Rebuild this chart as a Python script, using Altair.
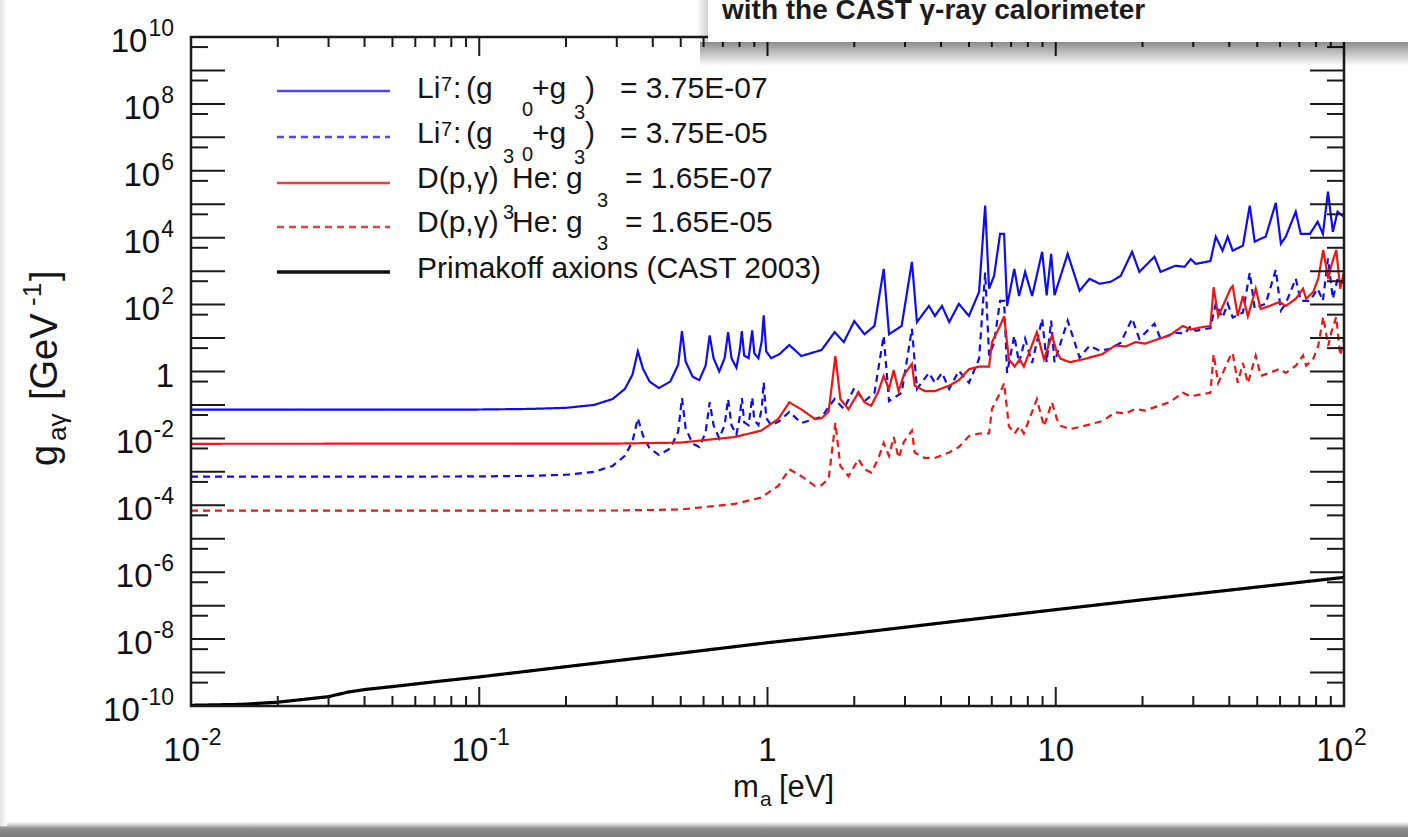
import altair as alt
import pandas as pd

# ---------------------------------------------------------------- layout
PAGE_W, PAGE_H = 1408, 837
PAD_L, PAD_T, PAD_R, PAD_B = 191, 37, 64, 131
W = PAGE_W - PAD_L - PAD_R
H = PAGE_H - PAD_T - PAD_B
FONT = "Liberation Sans"

# ---------------------------------------------------------------- data
# Li7 : (g0+g3) = 3.75E-07  (blue, solid)
li7_m = [0.01, 0.05, 0.1, 0.15, 0.2, 0.25, 0.29, 0.32, 0.34, 0.355, 0.37, 0.39,
         0.42, 0.46, 0.49, 0.505, 0.52, 0.55, 0.58, 0.61, 0.63, 0.65, 0.68, 0.71,
         0.73, 0.75, 0.78, 0.80, 0.815, 0.83, 0.86, 0.885, 0.90, 0.93, 0.955, 0.97,
         0.99, 1.03, 1.1, 1.19, 1.31, 1.54, 1.71, 1.84, 2.0, 2.17, 2.35, 2.53, 2.64,
         2.92, 3.17, 3.3, 3.63, 3.81, 4.03, 4.27, 4.61, 5.0, 5.42, 5.69, 5.87, 6.11,
         6.41, 6.62, 6.78, 7.18, 7.46, 7.83, 8.28, 8.97, 9.3, 9.64, 9.9, 11.0, 12.1,
         13.1, 14.2, 15.5, 16.8, 18.4, 19.5, 22.0, 23.1, 26.0, 28.0, 29.4, 30.6,
         34.4, 35.9, 37.9, 39.5, 41.1, 44.6, 47.1, 49.0, 51.4, 53.5, 58.0, 60.4,
         62.8, 68.0, 70.8, 76.2, 81.0, 84.5, 88.0, 91.5, 95.0, 100.0]
li7_a_g = [7.2e-2, 7.2e-2, 7.3e-2, 7.6e-2, 8.2e-2, 1.0e-1, 1.5e-1, 3.0e-1, 8.0e-1,
           4.0e0, 1.2e0, 5.0e-1, 3.2e-1, 5.0e-1, 1.6e0, 1.6e1, 2.0e0, 7.0e-1, 5.5e-1,
           1.5e0, 1.2e1, 2.5e0, 1.0e0, 2.5e0, 1.5e1, 2.5e0, 1.3e0, 4.0e0, 1.6e1, 3.0e0,
           2.5e0, 1.7e1, 3.5e0, 2.5e0, 8.0e0, 4.8e1, 4.0e0, 2.5e0, 3.3e0, 6.2e0, 2.9e0,
           4.4e0, 1.5e1, 7.6e0, 3.2e1, 1.3e1, 2.3e1, 1.17e3, 1.3e1, 2.3e1, 1.9e3, 3.0e1,
           9.1e1, 4.6e1, 9.1e1, 3.0e1, 1.05e2, 4.6e1, 2.4e2, 9.1e4, 3.0e2, 7.2e2, 1.3e4,
           1.3e4, 9.1e1, 1.17e3, 1.8e2, 9.5e2, 1.8e2, 3.8e3, 1.9e2, 3.3e3, 1.9e2, 3.3e3,
           2.6e2, 5.9e2, 4.2e2, 4.8e2, 7.2e2, 3.8e3, 9.5e2, 2.7e3, 9.5e2, 1.45e3, 1.35e3,
           2.3e3, 1.65e3, 2.0e3, 1.07e4, 4.1e3, 1.07e4, 4.1e3, 5.8e3, 9.1e4, 7.6e3, 9.3e3,
           1.07e4, 1.1e5, 6.6e3, 1.07e4, 6.0e4, 1.3e4, 1.3e4, 3.0e4, 1.3e4, 2.4e5, 1.5e4,
           6.0e4, 4.2e4]
# Li7 : (g0+g3) = 3.75E-05  (blue, dashed)
li7_b_g = [7.2e-4, 7.2e-4, 7.3e-4, 7.6e-4, 8.2e-4, 1.0e-3, 1.5e-3, 3.0e-3, 8.0e-3,
           4.0e-2, 1.2e-2, 5.0e-3, 3.2e-3, 5.0e-3, 1.6e-2, 1.6e-1, 2.0e-2, 7.0e-3, 5.5e-3,
           1.5e-2, 1.2e-1, 2.5e-2, 1.0e-2, 2.5e-2, 1.5e-1, 2.5e-2, 1.3e-2, 4.0e-2, 1.6e-1, 3.0e-2,
           2.5e-2, 1.7e-1, 3.5e-2, 2.5e-2, 8.0e-2, 4.8e-1, 4.0e-2, 2.5e-2, 3.3e-2, 6.2e-2, 2.9e-2,
           4.4e-2, 1.5e-1, 7.6e-2, 3.2e-1, 1.3e-1, 2.3e-1, 1.17e1, 1.3e-1, 2.3e-1, 1.9e1, 3.0e-1,
           9.1e-1, 4.6e-1, 9.1e-1, 3.0e-1, 1.05e0, 4.6e-1, 2.4e0, 9.1e2, 3.0e0, 7.2e0, 1.3e2,
           1.3e2, 9.1e-1, 1.17e1, 1.8e0, 9.5e0, 1.8e0, 3.8e1, 1.9e0, 3.3e1, 1.9e0, 3.3e1,
           2.6e0, 5.9e0, 4.2e0, 4.8e0, 7.2e0, 3.8e1, 9.5e0, 2.7e1, 9.5e0, 1.45e1, 1.35e1,
           2.3e1, 1.65e1, 2.0e1, 1.07e2, 4.1e1, 1.07e2, 4.1e1, 5.8e1, 9.1e2, 7.6e1, 9.3e1,
           1.07e2, 1.1e3, 6.6e1, 1.07e2, 6.0e2, 1.3e2, 1.3e2, 3.0e2, 1.3e2, 2.4e3, 1.5e2,
           6.0e2, 4.2e2]

# D(p,gamma)3He : g3 = 1.65E-07  (red, solid)
dpg_m = [0.01, 0.3, 0.5, 0.59, 0.77, 0.95, 1.09, 1.19, 1.31, 1.46, 1.54, 1.63, 1.72,
         1.79, 1.91, 2.07, 2.17, 2.29, 2.42, 2.53, 2.64, 2.74, 2.85, 2.97, 3.17, 3.24,
         3.51, 3.81, 4.27, 4.61, 5.0, 5.42, 5.87, 6.01, 6.41, 6.62, 6.88, 7.2, 7.5,
         7.75, 8.6, 9.1, 9.7, 10.1, 10.4, 11.2, 12.4, 14.5, 16.1, 17.5, 18.9, 20.4,
         22.9, 24.8, 27.6, 29.4, 32.0, 34.4, 35.3, 36.6, 38.0, 40.4, 41.1, 42.8, 44.6,
         46.4, 48.3, 49.4, 51.4, 55.2, 59.8, 62.8, 68.1, 72.1, 73.9, 78.2, 81.4, 84.7,
         88.2, 90.3, 94.0, 97.0, 100.0]
dpg_a_g = [6.9e-3, 7.0e-3, 7.5e-3, 8.7e-3, 1.1e-2, 1.7e-2, 3.8e-2, 1.2e-1, 7.4e-2,
           3.8e-2, 4.0e-2, 6.3e-2, 2.9e0, 1.5e-1, 7.4e-2, 2.4e-1, 1.2e-1, 9.5e-2, 2.4e-1,
           7.4e-1, 3.0e-1, 1.1e0, 2.6e-1, 7.8e-1, 1.7e0, 3.8e-1, 2.6e-1, 2.6e-1, 3.8e-1,
           5.5e-1, 1.17e0, 1.4e0, 1.4e0, 7.6e0, 2.3e1, 4.5e1, 2.3e0, 1.4e0, 2.3e0, 1.4e0,
           1.5e1, 2.3e0, 1.2e1, 3.7e0, 2.4e0, 1.9e0, 2.3e0, 3.3e0, 6.0e0, 5.6e0, 7.6e0,
           6.8e0, 9.6e0, 1.2e1, 2.3e1, 1.8e1, 2.1e1, 2.3e1, 3.3e2, 4.5e1, 9.1e1, 3.0e2,
           3.6e2, 4.6e1, 1.8e2, 4.5e1, 1.5e2, 3.0e2, 7.4e1, 9.1e1, 1.2e2, 9.1e1, 1.5e2,
           3.0e2, 1.5e2, 2.4e2, 5.9e2, 4.3e3, 5.9e2, 1.45e3, 4.3e3, 3.0e2, 9.5e2]
# D(p,gamma)3He : g3 = 1.65E-05  (red, dashed)
dpg_b_g = [6.9e-5, 7.0e-5, 7.5e-5, 8.7e-5, 1.1e-4, 1.7e-4, 3.8e-4, 1.2e-3, 7.4e-4,
           3.8e-4, 4.0e-4, 6.3e-4, 2.9e-2, 1.5e-3, 7.4e-4, 2.4e-3, 1.2e-3, 9.5e-4, 2.4e-3,
           7.4e-3, 3.0e-3, 1.1e-2, 2.6e-3, 7.8e-3, 1.7e-2, 3.8e-3, 2.6e-3, 2.6e-3, 3.8e-3,
           5.5e-3, 1.17e-2, 1.4e-2, 1.4e-2, 7.6e-2, 2.3e-1, 4.5e-1, 2.3e-2, 1.4e-2, 2.3e-2, 1.4e-2,
           1.5e-1, 2.3e-2, 1.2e-1, 3.7e-2, 2.4e-2, 1.9e-2, 2.3e-2, 3.3e-2, 6.0e-2, 5.6e-2, 7.6e-2,
           6.8e-2, 9.6e-2, 1.2e-1, 2.3e-1, 1.8e-1, 2.1e-1, 2.3e-1, 3.3e0, 4.5e-1, 9.1e-1, 3.0e0,
           3.6e0, 4.6e-1, 1.8e0, 4.5e-1, 1.5e0, 3.0e0, 7.4e-1, 9.1e-1, 1.2e0, 9.1e-1, 1.5e0,
           3.0e0, 1.5e0, 2.4e0, 5.9e0, 4.3e1, 5.9e0, 1.45e1, 4.3e1, 3.0e0, 9.5e0]

# Primakoff axions (CAST 2003)
cast_m = [0.01, 0.015, 0.02, 0.03, 0.035, 0.04, 0.05, 0.07, 0.1, 0.2, 0.5, 1.0,
          2.0, 5.0, 10.0, 20.0, 50.0, 100.0]
cast_g = [1.05e-10, 1.12e-10, 1.3e-10, 1.9e-10, 2.6e-10, 3.1e-10, 3.8e-10, 5.3e-10,
          7.4e-10, 1.5e-9, 3.8e-9, 7.8e-9, 1.5e-8, 3.8e-8, 7.6e-8, 1.5e-7, 3.6e-7, 7.0e-7]

SERIES = [
    # masses, couplings, colour, dash, width
    (li7_m, li7_a_g, "#0d0df0", [1, 0], 2.2),
    (li7_m, li7_b_g, "#0d0df0", [7, 5], 2.2),
    (dpg_m, dpg_a_g, "#f01414", [1, 0], 2.2),
    (dpg_m, dpg_b_g, "#f01414", [7, 5], 2.2),
    (cast_m, cast_g, "#000000", [1, 0], 3.2),
]

# axis ticks and tick labels
x_major = [0.01, 0.1, 1.0, 10.0, 100.0]
x_minor = [k * 10.0 ** e for e in (-2, -1, 0, 1) for k in range(2, 10)]
y_major = [10.0 ** e for e in range(-10, 11)]
y_minor = [5 * 10.0 ** e for e in range(-10, 10)]

x_label_values = [0.01, 0.1, 1.0, 10.0, 100.0]
x_label_base = ["10", "10", "1", "10", "10"]
x_label_exp = ["-2", "-1", "", "", "2"]
y_label_values = [10.0 ** e for e in range(-10, 11, 2)]
y_label_base = ["10", "10", "10", "10", "10", "1", "10", "10", "10", "10", "10"]
y_label_exp = ["-10", "-8", "-6", "-4", "-2", "", "2", "4", "6", "8", "10"]

x_scale = alt.Scale(type="log", domain=[0.01, 100], nice=False)
y_scale = alt.Scale(type="log", domain=[1e-10, 1e10], nice=False)

one_row = pd.DataFrame({"k": [0]})
layers = []

# ---------------------------------------------------------------- curves
for m, g, col, dash, sw in SERIES:
    df = pd.DataFrame({"m": m, "g": g, "i": range(len(m))})
    layers.append(
        alt.Chart(df).mark_line(color=col, strokeDash=dash, strokeWidth=sw, clip=True)
        .encode(x=alt.X("m:Q", scale=x_scale, axis=None),
                y=alt.Y("g:Q", scale=y_scale, axis=None),
                order="i:O")
    )

# ---------------------------------------------------------------- ticks
TICK = "#1a1a1a"


def xticks(vals, length):
    d = pd.DataFrame({"v": vals})
    base = alt.Chart(d).mark_rule(color=TICK, strokeWidth=2)
    xx = alt.X("v:Q", scale=x_scale, axis=None)
    return [base.encode(x=xx, y=alt.value(H), y2=alt.value(H - length)),
            base.encode(x=xx, y=alt.value(0), y2=alt.value(length))]


def yticks(vals, length):
    d = pd.DataFrame({"v": vals})
    base = alt.Chart(d).mark_rule(color=TICK, strokeWidth=2)
    yy = alt.Y("v:Q", scale=y_scale, axis=None)
    return [base.encode(y=yy, x=alt.value(0), x2=alt.value(length)),
            base.encode(y=yy, x=alt.value(W), x2=alt.value(W - length))]


layers += xticks(x_major, 19) + xticks(x_minor, 10)
layers += yticks(y_major, 34) + yticks(y_minor, 17)

# frame
layers.append(
    alt.Chart(one_row).mark_rect(fill=None, stroke="#1a1a1a", strokeWidth=2.5)
    .encode(x=alt.value(0), x2=alt.value(W), y=alt.value(0), y2=alt.value(H))
)

# ---------------------------------------------------------------- tick labels
LBL = 33
LBL_SUP = 23
CW = 0.556  # digit advance of the label font, in em
MW = 0.333  # hyphen advance, in em

xl = pd.DataFrame({"v": x_label_values, "b": x_label_base, "e": x_label_exp})
x_plain = xl[xl["e"] == ""]
x_pow = xl[xl["e"] != ""]
xx = alt.X("v:Q", scale=x_scale, axis=None)
layers.append(
    alt.Chart(x_plain).mark_text(align="center", baseline="alphabetic", font=FONT,
                                 fontSize=LBL, color="#111")
    .encode(x=xx, y=alt.value(H + 55), text="b:N")
)
layers.append(
    alt.Chart(x_pow).mark_text(align="right", baseline="alphabetic", font=FONT,
                               fontSize=LBL, color="#111", dx=9)
    .encode(x=xx, y=alt.value(H + 55), text="b:N")
)
layers.append(
    alt.Chart(x_pow).mark_text(align="left", baseline="alphabetic", font=FONT,
                               fontSize=LBL_SUP, color="#111", dx=10)
    .encode(x=xx, y=alt.value(H + 39), text="e:N")
)


def exp_width(s):
    return sum(MW if c == "-" else CW for c in s) * LBL_SUP


Y_RIGHT = -17
yl = pd.DataFrame({"v": y_label_values, "b": y_label_base, "e": y_label_exp})
yl["ex"] = Y_RIGHT
yl["bx"] = [Y_RIGHT - exp_width(e) - (1 if e else 0) for e in yl["e"]]
yy = alt.Y("v:Q", scale=y_scale, axis=None)
layers.append(
    alt.Chart(yl).mark_text(align="right", baseline="alphabetic", font=FONT,
                            fontSize=LBL, color="#111", dy=15)
    .encode(x=alt.X("bx:Q", scale=None), y=yy, text="b:N")
)
layers.append(
    alt.Chart(yl[yl["e"] != ""]).mark_text(align="right", baseline="alphabetic", font=FONT,
                                           fontSize=LBL_SUP, color="#111", dy=-1)
    .encode(x=alt.X("ex:Q", scale=None), y=yy, text="e:N")
)

# ---------------------------------------------------------------- legend
def px(v):
    return v - PAD_L


def py(v):
    return v - PAD_T


legend_lines = [
    (91, "#4a4af0", [1, 0], 2.5),
    (137, "#4a4af0", [7, 5], 2.5),
    (183, "#e84040", [1, 0], 2.5),
    (227, "#e84040", [7, 5], 2.5),
    (272, "#111111", [1, 0], 3.5),
]
for ly, col, dash, sw in legend_lines:
    layers.append(
        alt.Chart(one_row).mark_rule(color=col, strokeDash=dash, strokeWidth=sw)
        .encode(x=alt.value(px(277)), x2=alt.value(px(390)), y=alt.value(py(ly)))
    )

BIG, SMALL = 30, 20
legend_text = [
    # x, baseline, text, size
    (417, 98, "Li", BIG), (441, 91, "7", SMALL), (453, 98, ":", BIG),
    (466, 98, "(g", BIG), (522, 116, "0", SMALL), (532, 98, "+g", BIG),
    (574, 119, "3", SMALL), (585, 98, ")", BIG), (620, 98, "= 3.75E-07", BIG),

    (417, 143, "Li", BIG), (441, 136, "7", SMALL), (453, 143, ":", BIG),
    (466, 143, "(g", BIG), (522, 161, "0", SMALL), (532, 143, "+g", BIG),
    (574, 164, "3", SMALL), (585, 143, ")", BIG), (620, 143, "= 3.75E-05", BIG),

    (417, 188, "D(p,γ)", BIG), (503, 163, "3", SMALL), (512, 188, "He:", BIG),
    (566, 188, "g", BIG), (597, 207, "3", SMALL), (625, 188, "= 1.65E-07", BIG),

    (417, 232, "D(p,γ)", BIG), (503, 219, "3", SMALL), (512, 232, "He:", BIG),
    (566, 232, "g", BIG), (597, 250, "3", SMALL), (625, 232, "= 1.65E-05", BIG),

    (417, 278, "Primakoff axions (CAST 2003)", BIG),
]
leg_df = pd.DataFrame({
    "x": [px(t[0]) for t in legend_text],
    "y": [py(t[1]) for t in legend_text],
    "t": [t[2] for t in legend_text],
    "s": [t[3] for t in legend_text],
})
layers.append(
    alt.Chart(leg_df).mark_text(align="left", baseline="alphabetic", font=FONT, color="#151515")
    .encode(x=alt.X("x:Q", scale=None), y=alt.Y("y:Q", scale=None),
            text="t:N", size=alt.Size("s:Q", scale=None, legend=None))
)

# ---------------------------------------------------------------- axis titles
xt = pd.DataFrame({
    "x": [px(733), px(760), px(779)],
    "y": [py(797), py(806), py(797)],
    "t": ["m", "a", "[eV]"],
    "s": [31, 21, 31],
})
layers.append(
    alt.Chart(xt).mark_text(align="left", baseline="alphabetic", font=FONT, color="#151515")
    .encode(x=alt.X("x:Q", scale=None), y=alt.Y("y:Q", scale=None),
            text="t:N", size=alt.Size("s:Q", scale=None, legend=None))
)
# rotated y title, written bottom to top
yt = pd.DataFrame({
    "x": [px(57), px(66), px(57), px(41), px(57)],
    "y": [py(466), py(441), py(400), py(306), py(281)],
    "t": ["g", "aγ", "[GeV", "-1", "]"],
    "s": [38, 26, 38, 26, 38],
})
layers.append(
    alt.Chart(yt).mark_text(align="left", baseline="alphabetic", font=FONT, color="#151515", angle=270)
    .encode(x=alt.X("x:Q", scale=None), y=alt.Y("y:Q", scale=None),
            text="t:N", size=alt.Size("s:Q", scale=None, legend=None))
)

# ---------------------------------------------------------------- page decoration
# bottom and left edges of the slide
layers.append(
    alt.Chart(one_row).mark_rect(
        color=alt.LinearGradient(gradient="linear", x1=0, y1=0, x2=0, y2=1,
                                 stops=[alt.GradientStop(color="#ffffff", offset=0),
                                        alt.GradientStop(color="#8c8c8c", offset=0.45),
                                        alt.GradientStop(color="#7a7a7a", offset=1)]))
    .encode(x=alt.value(-PAD_L), x2=alt.value(PAGE_W - PAD_L),
            y=alt.value(py(822)), y2=alt.value(py(837)))
)
layers.append(
    alt.Chart(one_row).mark_rect(
        color=alt.LinearGradient(gradient="linear", x1=0, y1=0, x2=1, y2=0,
                                 stops=[alt.GradientStop(color="#e4e4e4", offset=0),
                                        alt.GradientStop(color="#ffffff", offset=1)]))
    .encode(x=alt.value(-PAD_L), x2=alt.value(px(7)),
            y=alt.value(-PAD_T), y2=alt.value(py(826)))
)

# heading box with its drop shadow
layers.append(
    alt.Chart(one_row).mark_rect(
        color=alt.LinearGradient(gradient="linear", x1=0, y1=0, x2=0, y2=1,
                                 stops=[alt.GradientStop(color="rgba(0,0,0,0.45)", offset=0),
                                        alt.GradientStop(color="rgba(0,0,0,0)", offset=1)]))
    .encode(x=alt.value(px(700)), x2=alt.value(PAGE_W - PAD_L),
            y=alt.value(py(42)), y2=alt.value(py(66)))
)
layers.append(
    alt.Chart(one_row).mark_rect(
        color=alt.LinearGradient(gradient="linear", x1=0, y1=0, x2=1, y2=0,
                                 stops=[alt.GradientStop(color="rgba(0,0,0,0)", offset=0),
                                        alt.GradientStop(color="rgba(0,0,0,0.18)", offset=1)]))
    .encode(x=alt.value(px(696)), x2=alt.value(px(708)),
            y=alt.value(-PAD_T), y2=alt.value(py(42)))
)
layers.append(
    alt.Chart(one_row).mark_rect(color="#ffffff")
    .encode(x=alt.value(px(708)), x2=alt.value(PAGE_W - PAD_L),
            y=alt.value(-PAD_T), y2=alt.value(py(42)))
)
layers.append(
    alt.Chart(one_row).mark_text(align="left", baseline="alphabetic", font=FONT,
                                 fontWeight="bold", fontSize=28, color="#1c1c1c")
    .encode(x=alt.value(px(722)), y=alt.value(py(19)),
            text=alt.value("with the CAST γ-ray calorimeter"))
)

chart = (
    alt.layer(*layers)
    .properties(width=W, height=H,
                padding={"left": PAD_L, "top": PAD_T, "right": PAD_R, "bottom": PAD_B},
                autosize=alt.AutoSizeParams(type="none"),
                background="#ffffff")
    .configure_view(stroke=None)
)

chart.save("out.html", embed_options={"renderer": "svg", "actions": False})
